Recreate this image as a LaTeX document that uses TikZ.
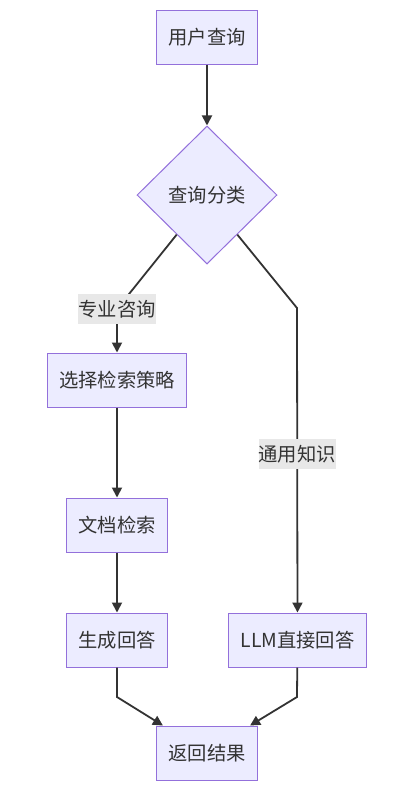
\documentclass[tikz,border=0pt]{standalone}
\usepackage{fontspec}
\setmainfont{Noto Sans CJK SC}
\usepackage{xcolor}
\usepackage{tikz}
\usetikzlibrary{positioning,arrows.meta,shapes.geometric,calc}
\definecolor{mmdfill}{HTML}{ECECFF}
\definecolor{mmdline}{HTML}{9370DB}
\definecolor{mmdedge}{HTML}{333333}
\definecolor{mmdlabel}{HTML}{E8E8E8}

\begin{document}
\begin{tikzpicture}[x=1pt,y=-1pt,
  box/.style={draw=mmdline,fill=mmdfill,line width=1pt,minimum height=54pt,inner xsep=12pt,inner ysep=0pt,text=mmdedge,font=\fontsize{19.3}{21}\selectfont},
  choice/.style={diamond,draw=mmdline,fill=mmdfill,line width=1pt,minimum width=140pt,minimum height=138pt,inner sep=0pt,text=mmdedge,font=\fontsize{19.3}{21}\selectfont},
  lab/.style={fill=mmdlabel,minimum height=30pt,inner xsep=0pt,inner ysep=0pt,text=mmdedge,font=\fontsize{19.3}{21}\selectfont},
  edge/.style={draw=mmdedge,line width=1.8pt,-{Triangle[length=10pt,width=10pt]}}
]
\useasboundingbox (0,0) rectangle (411,793);

\node[box] (q) at (207,37) {用户查询};
\node[choice,below=61pt of q] (cls) {查询分类};
\node[box] (sel) at (117,380) {选择检索策略};
\node[box,below=90pt of sel] (doc) {文档检索};
\node[box,below=60pt of doc] (gen) {生成回答};
\node[box,right=60pt of gen] (llm) {LLM直接回答};
\node[box] (ret) at (207,753) {返回结果};

\coordinate (b1) at (117,309);
\coordinate (b2) at (297,308);
\coordinate (b3) at (117,697);
\coordinate (b4) at (297,697);

\draw[edge] (q) -- (cls);
\draw[edge] ($(cls.west)!0.57!(cls.south)$) -- (b1) node[lab] (l1) {专业咨询} -- (sel);
\draw[edge] ($(cls.east)!0.57!(cls.south)$) -- (b2) -- node[lab,pos=0.48] (l2) {通用知识} (llm);
\draw[edge] (sel) -- (doc);
\draw[edge] (doc) -- (gen);
\draw[edge] (gen) -- (b3) -- ($(ret.north west)+(7,0)$);
\draw[edge] (llm) -- (b4) -- ($(ret.north east)+(-8,0)$);
\end{tikzpicture}
\end{document}
